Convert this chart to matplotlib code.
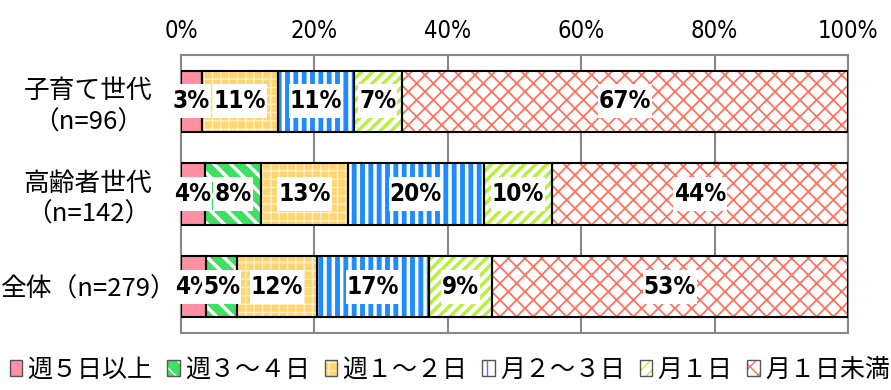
import numpy as np
import matplotlib as mpl
import matplotlib.pyplot as plt
from matplotlib.patches import Patch

plt.rcParams['font.family'] = ['Noto Sans CJK JP', 'DejaVu Sans']

## data (percent)
groups = ["子育て世代\n（n=96）", "高齢者世代\n（n=142）", "全体（n=279）"]
series = ["週５日以上", "週３～４日", "週１～２日", "月２～３日", "月１日", "月１日未満"]
week5 = [3.1, 3.6, 3.8]
week3_4 = [0.0, 8.4, 4.6]
week1_2 = [11.4, 13.0, 12.0]
month2_3 = [11.4, 20.4, 16.8]
month1 = [7.2, 10.2, 9.4]
month_less = [66.9, 44.4, 53.4]
xticks = [0, 20, 40, 60, 80, 100]

values = [week5, week3_4, week1_2, month2_3, month1, month_less]

# face colour, hatch, hatch colour, hatch width
styles = [
  ("#FF8FA3", None, "#FF8FA3", 1.0),
  ("#3DE060", "\\\\", "white", 2.5),
  ("#FFD66E", "++", "#FFF0C8", 1.0),
  ("white", "||", "#1E8CFF", 3.5),
  ("white", "///", "#B8F040", 2.5),
  ("white", "xx", "#FF7260", 1.3),
]

narrow = dict(family='DejaVu Sans', stretch='condensed')

fig = plt.figure(figsize=(8.91, 3.9), dpi=100)
ax = fig.add_axes([181/891, 1-333/390, 667/891, 278/390])

y = np.arange(len(groups))
left = np.zeros(len(groups))
bar_h = 0.66
for vals, (fc, hatch, hc, hw) in zip(values, styles):
  vals = np.array(vals)
  with mpl.rc_context({'hatch.linewidth': hw}):
    ax.barh(y, vals, left=left, height=bar_h, color=fc, hatch=hatch,
            edgecolor=hc, linewidth=0, zorder=2)
  ax.barh(y, vals, left=left, height=bar_h, fill=False,
          edgecolor="black", linewidth=1.5, zorder=3)
  for i in range(len(groups)):
    if vals[i] > 0:
      ax.text(left[i] + vals[i]/2, y[i], "%d%%" % round(vals[i]),
              ha="center", va="center", fontsize=17.5, fontweight="bold",
              zorder=4, **narrow,
              bbox=dict(boxstyle="square,pad=0.04", fc="white", ec="none",
                        mutation_aspect=5))
  left += vals

ax.set_xlim(0, 100)
ax.set_ylim(2.5, -0.5)
ax.set_xticks(xticks)
ax.set_xticklabels(["%d%%" % t for t in xticks], fontsize=17, **narrow)
ax.xaxis.tick_top()
ax.tick_params(axis="x", length=0, pad=9)
ax.set_yticks(y)
ax.set_yticklabels(groups, fontsize=18.5, ha="center", multialignment="center",
                   linespacing=1.25)
ax.tick_params(axis="y", length=0, pad=67)
ax.grid(axis="x", color="#888888", linewidth=1.5, zorder=1)
for s in ax.spines.values():
  s.set_color("#888888")
  s.set_linewidth(1.5)

handles = []
for fc, h, hc, hw in styles:
  with mpl.rc_context({'hatch.linewidth': 1.5}):
    inner = Patch(facecolor=fc, hatch=h, edgecolor=hc, linewidth=0)
  border = Patch(fill=False, edgecolor="#555555", linewidth=1)
  handles.append((inner, border))
fig.legend(handles, series, loc="lower center", bbox_to_anchor=(0.505, -0.04),
           ncol=6, frameon=False, fontsize=18, handlelength=0.5,
           handleheight=0.6, handletextpad=0.2, columnspacing=0.6)

fig.savefig("out.png", dpi=100)
